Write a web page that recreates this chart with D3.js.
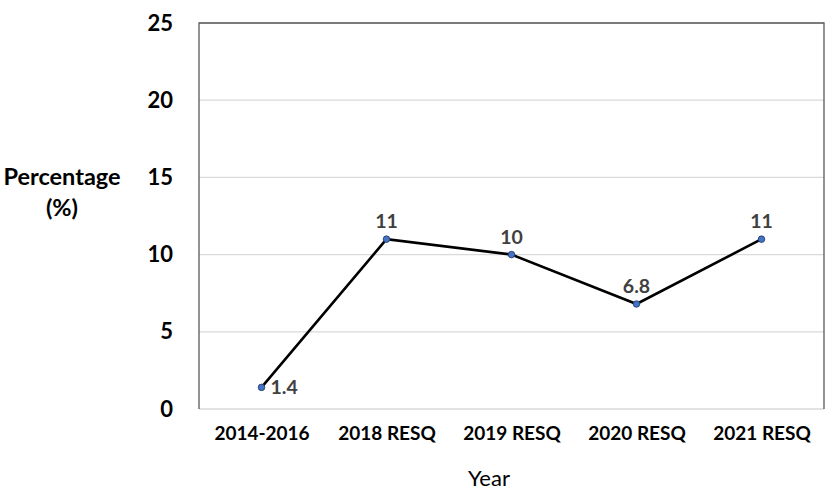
<!DOCTYPE html>
<html>
<head>
<meta charset="utf-8">
<script src="https://cdn.jsdelivr.net/npm/d3@7"></script>
<style>
  body { margin: 0; background: #fff; }
  text { font-family: Lato, "Open Sans", sans-serif; }
</style>
</head>
<body>
<svg id="chart" width="827" height="490"></svg>
<script>
const categories = ["2014-2016", "2018 RESQ", "2019 RESQ", "2020 RESQ", "2021 RESQ"];
const values = [1.4, 11, 10, 6.8, 11];
const labels = ["1.4", "11", "10", "6.8", "11"];
const yTicks = [0, 5, 10, 15, 20, 25];

const margin = {top: 23, right: 3, bottom: 81, left: 199};
const width = 827 - margin.left - margin.right;
const height = 490 - margin.top - margin.bottom;

const svg = d3.select("#chart");
const g = svg.append("g").attr("transform", `translate(${margin.left},${margin.top})`);

const x = d3.scalePoint().domain(categories).range([0, width]).padding(0.5);
const y = d3.scaleLinear().domain([0, 25]).range([height, 0]);

// gridlines
g.append("g")
  .selectAll("line")
  .data(yTicks)
  .join("line")
  .attr("x1", 0).attr("x2", width)
  .attr("y1", d => y(d)).attr("y2", d => y(d))
  .attr("stroke", "#d9d9d9")
  .attr("stroke-width", 1.3);

// frame: top, left, right
g.append("path")
  .attr("d", `M0,${height}V0H${width}V${height}`)
  .attr("fill", "none")
  .attr("stroke", "#595959")
  .attr("stroke-width", 1.3);

// y axis labels
const yAxis = g.append("g").call(d3.axisLeft(y).tickValues(yTicks).tickSize(0).tickPadding(26));
yAxis.select(".domain").remove();
yAxis.selectAll("text")
  .attr("font-family", "Lato, sans-serif")
  .attr("font-size", 22)
  .attr("font-weight", "bold")
  .attr("fill", "#000");

// x axis labels
const xAxis = g.append("g").attr("transform", `translate(0,${height})`)
  .call(d3.axisBottom(x).tickSize(0).tickPadding(18));
xAxis.select(".domain").remove();
xAxis.selectAll("text")
  .attr("font-family", "Lato, sans-serif")
  .attr("font-size", 19)
  .attr("font-weight", "bold")
  .attr("fill", "#000");

// axis titles
const ytitle = svg.append("text")
  .attr("text-anchor", "middle")
  .attr("font-size", 23.5)
  .attr("font-weight", "bold")
  .attr("fill", "#000");
ytitle.append("tspan").attr("x", 62).attr("y", 185).text("Percentage");
ytitle.append("tspan").attr("x", 62).attr("y", 216).text("(%)");

svg.append("text")
  .attr("x", 489)
  .attr("y", 486)
  .attr("text-anchor", "middle")
  .attr("font-size", 22)
  .attr("fill", "#000")
  .text("Year");

// line
const data = categories.map((c, i) => ({cat: c, v: values[i], label: labels[i]}));
g.append("path")
  .datum(data)
  .attr("fill", "none")
  .attr("stroke", "#000")
  .attr("stroke-width", 2.6)
  .attr("d", d3.line().x(d => x(d.cat)).y(d => y(d.v)));

g.selectAll("circle.pt")
  .data(data)
  .join("circle")
  .attr("class", "pt")
  .attr("cx", d => x(d.cat))
  .attr("cy", d => y(d.v))
  .attr("r", 3.3)
  .attr("fill", "#4472c4")
  .attr("stroke", "#1f3864")
  .attr("stroke-width", 0.8);

// data labels
g.selectAll("text.lbl")
  .data(data)
  .join("text")
  .attr("class", "lbl")
  .attr("x", (d, i) => i === 0 ? x(d.cat) + 9 : x(d.cat))
  .attr("y", (d, i) => i === 0 ? y(d.v) + 7 : y(d.v) - 11)
  .attr("text-anchor", (d, i) => i === 0 ? "start" : "middle")
  .attr("font-size", 19.5)
  .attr("font-weight", "bold")
  .attr("fill", "#404040")
  .text(d => d.label);
</script>
</body>
</html>
